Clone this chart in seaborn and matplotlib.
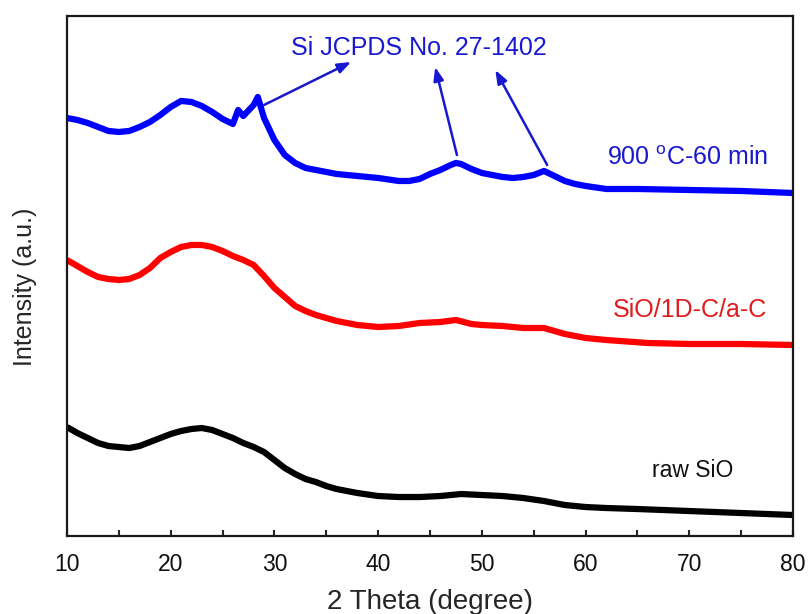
import numpy as np
import pandas as pd
import matplotlib
matplotlib.use("Agg")
import matplotlib.pyplot as plt
import seaborn as sns

# データ（画像から読み取った強度値、縦方向はオフセット済み）
x_blue = [10, 11, 12, 13, 14, 15, 16, 17, 18, 19, 20, 21, 22, 23, 24, 25, 26, 26.5, 27, 28, 28.4,
          29, 30, 31, 32, 33, 34, 35, 36, 38, 40, 42, 43, 44, 45, 46, 47, 47.5, 48, 49, 50, 51,
          52, 53, 54, 55, 56, 57, 58, 59, 60, 62, 65, 70, 75, 80]
y_blue = [418, 416, 413, 409, 405, 404, 405, 409, 414, 421, 429, 435, 434, 430, 424, 417, 412, 426,
          420, 431, 439, 418, 396, 381, 373, 368, 366, 364, 362, 360, 358, 355, 355, 357, 362, 366,
          371, 373, 372, 367, 363, 361, 359, 358, 359, 361, 365, 360, 355, 352, 350, 347, 347, 346,
          345, 343]

x_red = [10, 11, 12, 13, 14, 15, 16, 17, 18, 19, 20, 21, 22, 23, 24, 25, 26, 27, 28, 29, 30, 31,
         32, 33, 34, 35, 36, 38, 40, 42, 44, 46, 47.5, 49, 50, 52, 54, 56, 57, 58, 60, 62, 66, 70,
         75, 80]
y_red = [276, 270, 264, 259, 257, 256, 257, 261, 268, 278, 284, 289, 291, 291, 289, 285, 280, 276,
         271, 260, 248, 239, 230, 225, 221, 218, 215, 211, 209, 210, 213, 214, 216, 212, 211, 210,
         208, 208, 205, 202, 198, 196, 193, 192, 192, 191]

x_black = [10, 11, 12, 13, 14, 15, 16, 17, 18, 19, 20, 21, 22, 23, 24, 25, 26, 27, 28, 29, 30, 31,
           32, 33, 34, 35, 36, 37, 38, 40, 42, 44, 46, 48, 50, 52, 54, 56, 58, 60, 62, 65, 70, 75, 80]
y_black = [109, 103, 98, 93, 90, 89, 88, 90, 94, 98, 102, 105, 107, 108, 106, 102, 98, 93, 89, 84,
           76, 68, 62, 57, 54, 50, 47, 45, 43, 40, 39, 39, 40, 42, 41, 40, 38, 35, 31, 29, 28, 27,
           25, 23, 21]

series_names = ["900C", "SiO/1D-C/a-C", "raw SiO"]
line_colors = {"900C": "#0000FF", "SiO/1D-C/a-C": "#FF0000", "raw SiO": "#000000"}

df = pd.concat([
    pd.DataFrame({"x": x_blue, "y": y_blue, "sample": series_names[0]}),
    pd.DataFrame({"x": x_red, "y": y_red, "sample": series_names[1]}),
    pd.DataFrame({"x": x_black, "y": y_black, "sample": series_names[2]}),
], ignore_index=True)

sns.set_style("ticks")
plt.rcParams["font.family"] = ["Liberation Sans", "DejaVu Sans"]
plt.rcParams["mathtext.fontset"] = "custom"
plt.rcParams["mathtext.rm"] = "Liberation Sans"
plt.rcParams["lines.solid_joinstyle"] = "round"
plt.rcParams["lines.solid_capstyle"] = "butt"

fig = plt.figure(figsize=(8.08, 6.14), dpi=100)
ax = fig.add_axes([0.0829, 0.127, 0.8985, 0.847])

sns.lineplot(data=df, x="x", y="y", hue="sample", palette=line_colors, estimator=None,
             sort=False, linewidth=4.5, legend=False, ax=ax)

ax.set_xlim(10, 80)
ax.set_ylim(0, 520)
ax.set_xticks(np.arange(10, 81, 10))
ax.set_xticks(np.arange(15, 80, 10), minor=True)
ax.set_yticks([])
ax.tick_params(axis="x", which="both", direction="in", length=4.5, width=1.5,
               labelsize=16.5, pad=12, top=False, labelcolor="#111111")
for s in ax.spines.values():
    s.set_linewidth(1.6)
    s.set_color("#1a1a1a")

ax.set_xlabel("2 Theta (degree)", fontsize=20, va="center")
ax.xaxis.set_label_coords(0.5, -0.127)
ax.set_ylabel("Intensity (a.u.)", fontsize=18, va="center")
ax.yaxis.set_label_coords(-0.058, 0.479)

# ラベル
text_blue = "#1818D0"
ax.text(43.9, 488, "Si JCPDS No. 27-1402", color=text_blue, fontsize=18, ha="center", va="center")
ax.text(62.1, 378, "900 $^{\\rm o}$C-60 min", color=text_blue, fontsize=18, ha="left", va="center")
ax.text(62.6, 226, "SiO/1D-C/a-C", color="#E01B1B", fontsize=18, ha="left", va="center")
ax.text(66.4, 66, "raw SiO", color="#111111", fontsize=16.5, ha="left", va="center")

# 矢印
arrows = [((29.0, 431), (37.4, 474)), ((47.6, 381), (45.5, 469)), ((56.3, 371), (51.3, 466))]
for tail, head in arrows:
    ax.annotate("", xy=head, xytext=tail,
                arrowprops=dict(arrowstyle="-|>,head_length=0.8,head_width=0.3",
                                color=text_blue, lw=1.8, shrinkA=0, shrinkB=0))

fig.savefig("out.png", dpi=100)
